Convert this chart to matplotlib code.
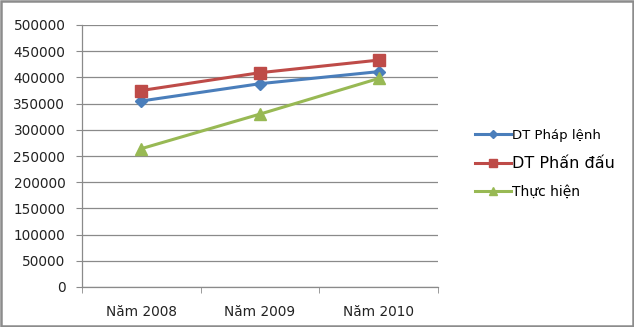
import matplotlib.pyplot as plt
from matplotlib.patches import Rectangle

years = ['Năm 2008', 'Năm 2009', 'Năm 2010']
phap_lenh = [355000, 388000, 411000]
phan_dau = [375000, 409000, 433000]
thuc_hien = [264000, 330000, 398000]
series_names = ['DT Pháp lệnh', 'DT Phấn đấu', 'Thực hiện']
yticks = list(range(0, 500001, 50000))

plt.rcParams['font.family'] = 'DejaVu Sans'

fig = plt.figure(figsize=(6.34, 3.27), dpi=100)
ax = fig.add_axes([82 / 634, 1 - 287 / 327, 356 / 634, 262 / 327])

x = list(range(len(years)))
ax.plot(x, phap_lenh, color='#4A7EBB', lw=2.2, marker='D', ms=6.5, label=series_names[0], zorder=3)
ax.plot(x, phan_dau, color='#BE4B48', lw=2.2, marker='s', ms=9, label=series_names[1], zorder=3)
ax.plot(x, thuc_hien, color='#98B954', lw=2.2, marker='^', ms=9, label=series_names[2], zorder=3)

ax.set_xlim(-0.5, 2.5)
ax.set_ylim(0, 500000)
ax.set_yticks(yticks)
ax.set_yticklabels([str(v) for v in yticks])
ax.set_xticks(x)
ax.set_xticklabels(years)
ax.set_xticks([-0.5, 0.5, 1.5, 2.5], minor=True)

ax.grid(axis='y', color='#8a8a8a', lw=0.9)
ax.set_axisbelow(True)
for s in ['top', 'right']:
    ax.spines[s].set_visible(False)
for s in ['left', 'bottom']:
    ax.spines[s].set_color('#8a8a8a')
    ax.spines[s].set_linewidth(0.9)

ax.tick_params(axis='y', length=4, color='#8a8a8a', pad=8, labelsize=9.8, labelcolor='#222222')
ax.tick_params(axis='x', which='major', length=0, pad=13, labelsize=9.8, labelcolor='#222222')
ax.tick_params(axis='x', which='minor', length=4, color='#8a8a8a')

leg = fig.legend(loc='center left', bbox_to_anchor=(462 / 634, 1 - 163.5 / 327),
                 frameon=False, handlelength=2.6, handletextpad=0.1,
                 labelspacing=1.0, markerscale=0.7)
sizes = [9.5, 11.5, 10]
for t, fs in zip(leg.get_texts(), sizes):
    t.set_fontsize(fs)

fig.patches.append(Rectangle((0.002, 0.003), 0.996, 0.994, transform=fig.transFigure,
                             fill=False, edgecolor='#8c8c8c', lw=1.8))

fig.savefig('out.png', dpi=100)
